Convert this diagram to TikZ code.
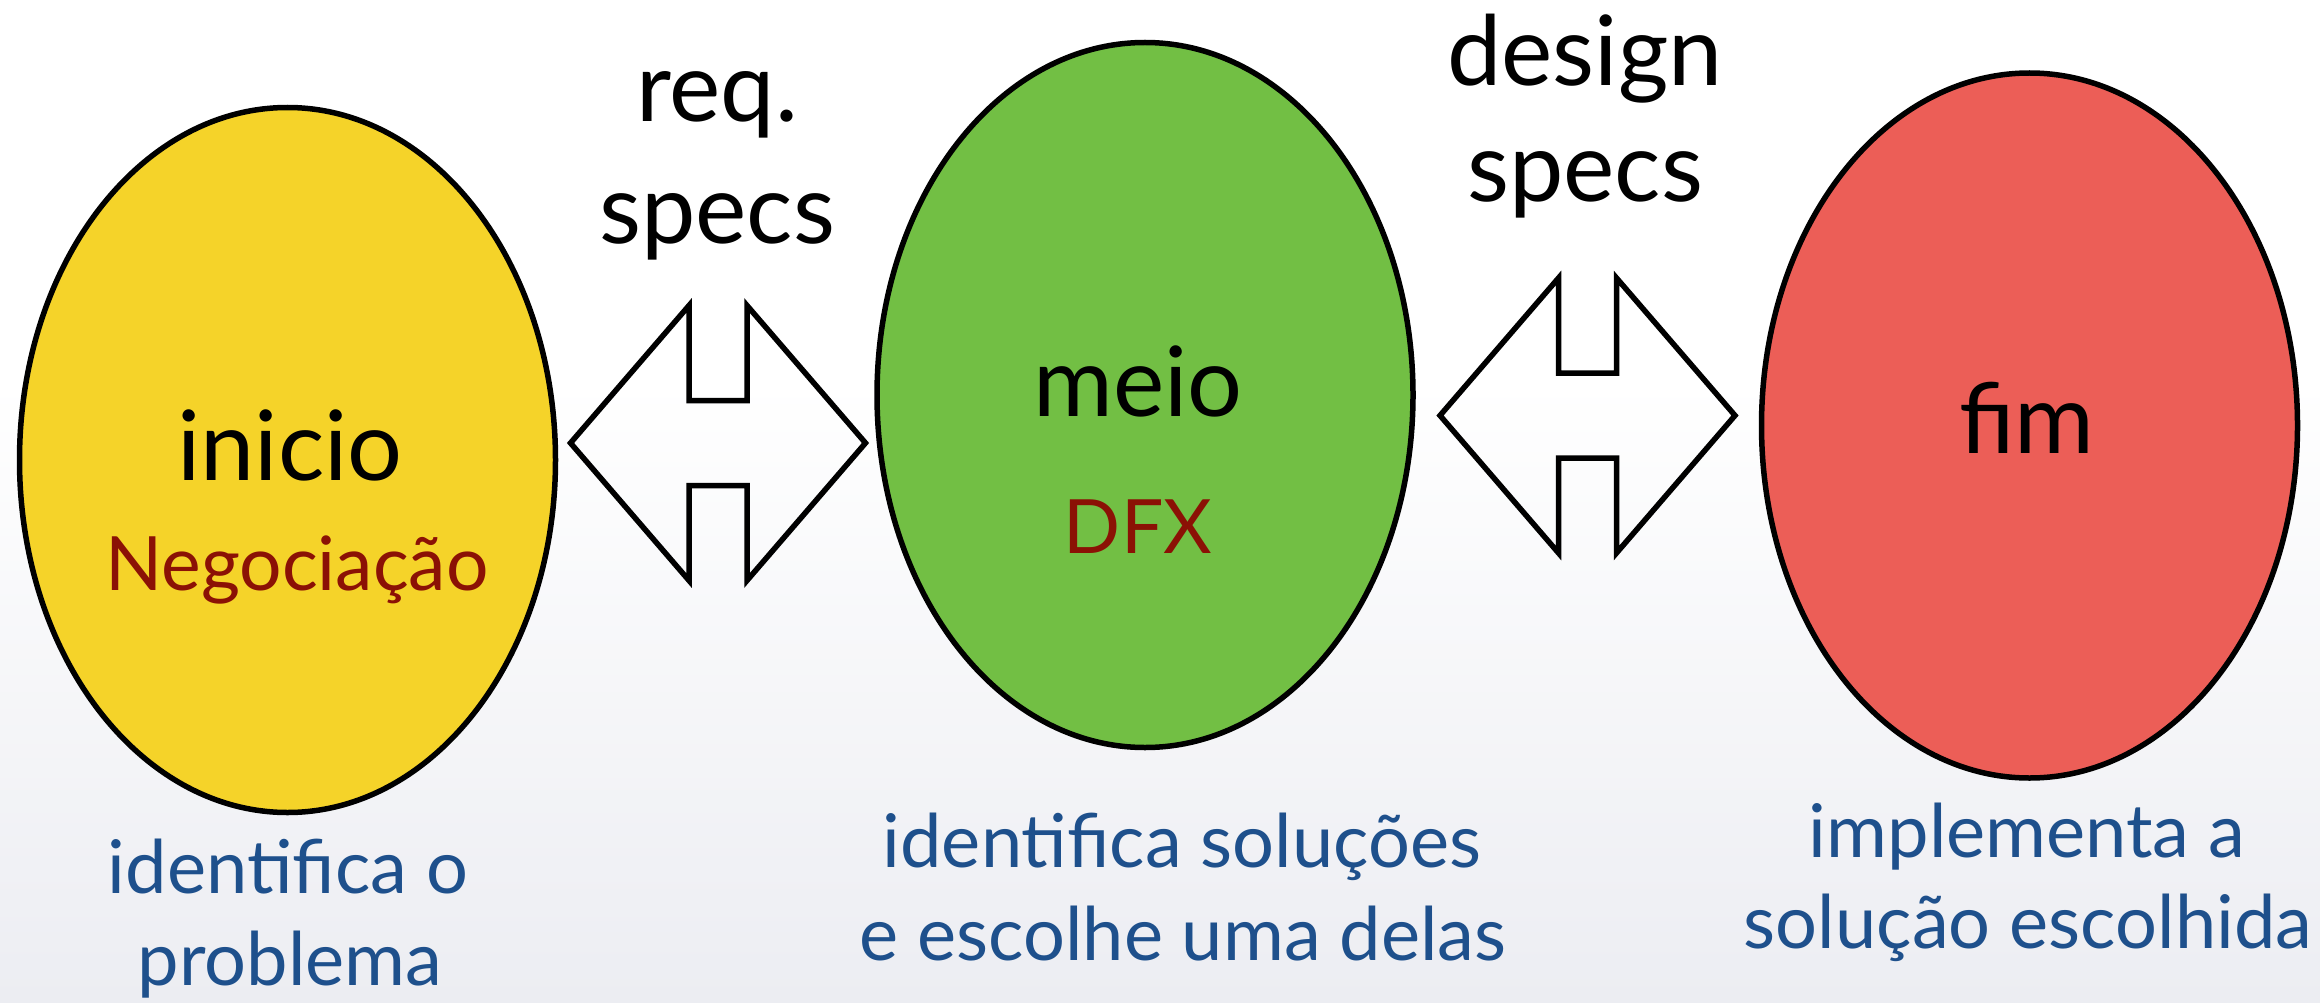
\documentclass[tikz,border=0pt]{standalone}
\usepackage{fontspec}
\setmainfont{Lato}
\usetikzlibrary{shapes.geometric}
\definecolor{cyellow}{RGB}{245,211,41}
\definecolor{cgreen}{RGB}{114,191,68}
\definecolor{cred}{RGB}{236,94,87}
\definecolor{cdark}{RGB}{139,17,5}
\definecolor{cblue}{RGB}{30,80,140}
\definecolor{bgbot}{RGB}{236,237,242}
\tikzset{
  blob/.style={ellipse, draw=black, line width=5.5pt, minimum width=536pt, minimum height=705pt, inner sep=0pt},
  biglabel/.style={anchor=base, inner sep=0pt, text=black, font=\fontsize{97}{116}\selectfont},
  redlabel/.style={anchor=base, inner sep=0pt, text=cdark, font=\fontsize{75}{92}\selectfont},
  bluelabel/.style={anchor=base, inner sep=0pt, text=cblue, font=\fontsize{74}{92}\selectfont},
  arrowline/.style={draw=black, line width=5.5pt, line join=miter},
  dblarr/.pic={
    \path[arrowline] (-147.5,0) -- (-29,-137.5) -- (-29,-42.5) -- (29,-42.5) -- (29,-137.5)
      -- (147.5,0) -- (29,137.5) -- (29,42.5) -- (-29,42.5) -- (-29,137.5) -- cycle;
  }
}
\begin{document}
\begin{tikzpicture}[x=1pt,y=-1pt]
\useasboundingbox (0,0) rectangle (2320,1003);
\fill[white] (0,0) rectangle (2320,380);
\shade[top color=white, bottom color=bgbot] (0,380) rectangle (2320,1003);

% ellipses
\node[blob, fill=cyellow] (ini) at (287.5,460) {};
\node[blob, fill=cgreen] (mid) at (1145,395) {};
\node[blob, fill=cred] (fim) at (2029.5,425.5) {};

% double arrows
\coordinate (a1) at (718,443);
\coordinate (a2) at (1587.5,415.5);
\pic at (a1) {dblarr};
\pic at (a2) {dblarr};

% arrow labels
\node[biglabel] (req1) at (717,122) {req.};
\node[biglabel] (req2) at (717,243) {specs};
\node[biglabel] (des1) at (1585,86) {design};
\node[biglabel] (des2) at (1585,202) {specs};

% ellipse labels
\node[biglabel] (tini) at (290,480) {inicio};
\node[redlabel] (neg) at (297,590) {Negociação};
\node[biglabel] (tmid) at (1138,416) {meio};
\node[redlabel] (dfx) at (1138,553) {DFX};
\node[biglabel] (tfim) at (2027,453) {fim};

% descriptions
\node[bluelabel] (d1a) at (288,893) {identifica o};
\node[bluelabel] (d1b) at (290,985) {problema};
\node[bluelabel] (d2a) at (1182,867) {identifica soluções};
\node[bluelabel] (d2b) at (1183,960) {e escolhe uma delas};
\node[bluelabel] (d3a) at (2027,857) {implementa a};
\node[bluelabel] (d3b) at (2028,948) {solução escolhida};
\end{tikzpicture}
\end{document}
